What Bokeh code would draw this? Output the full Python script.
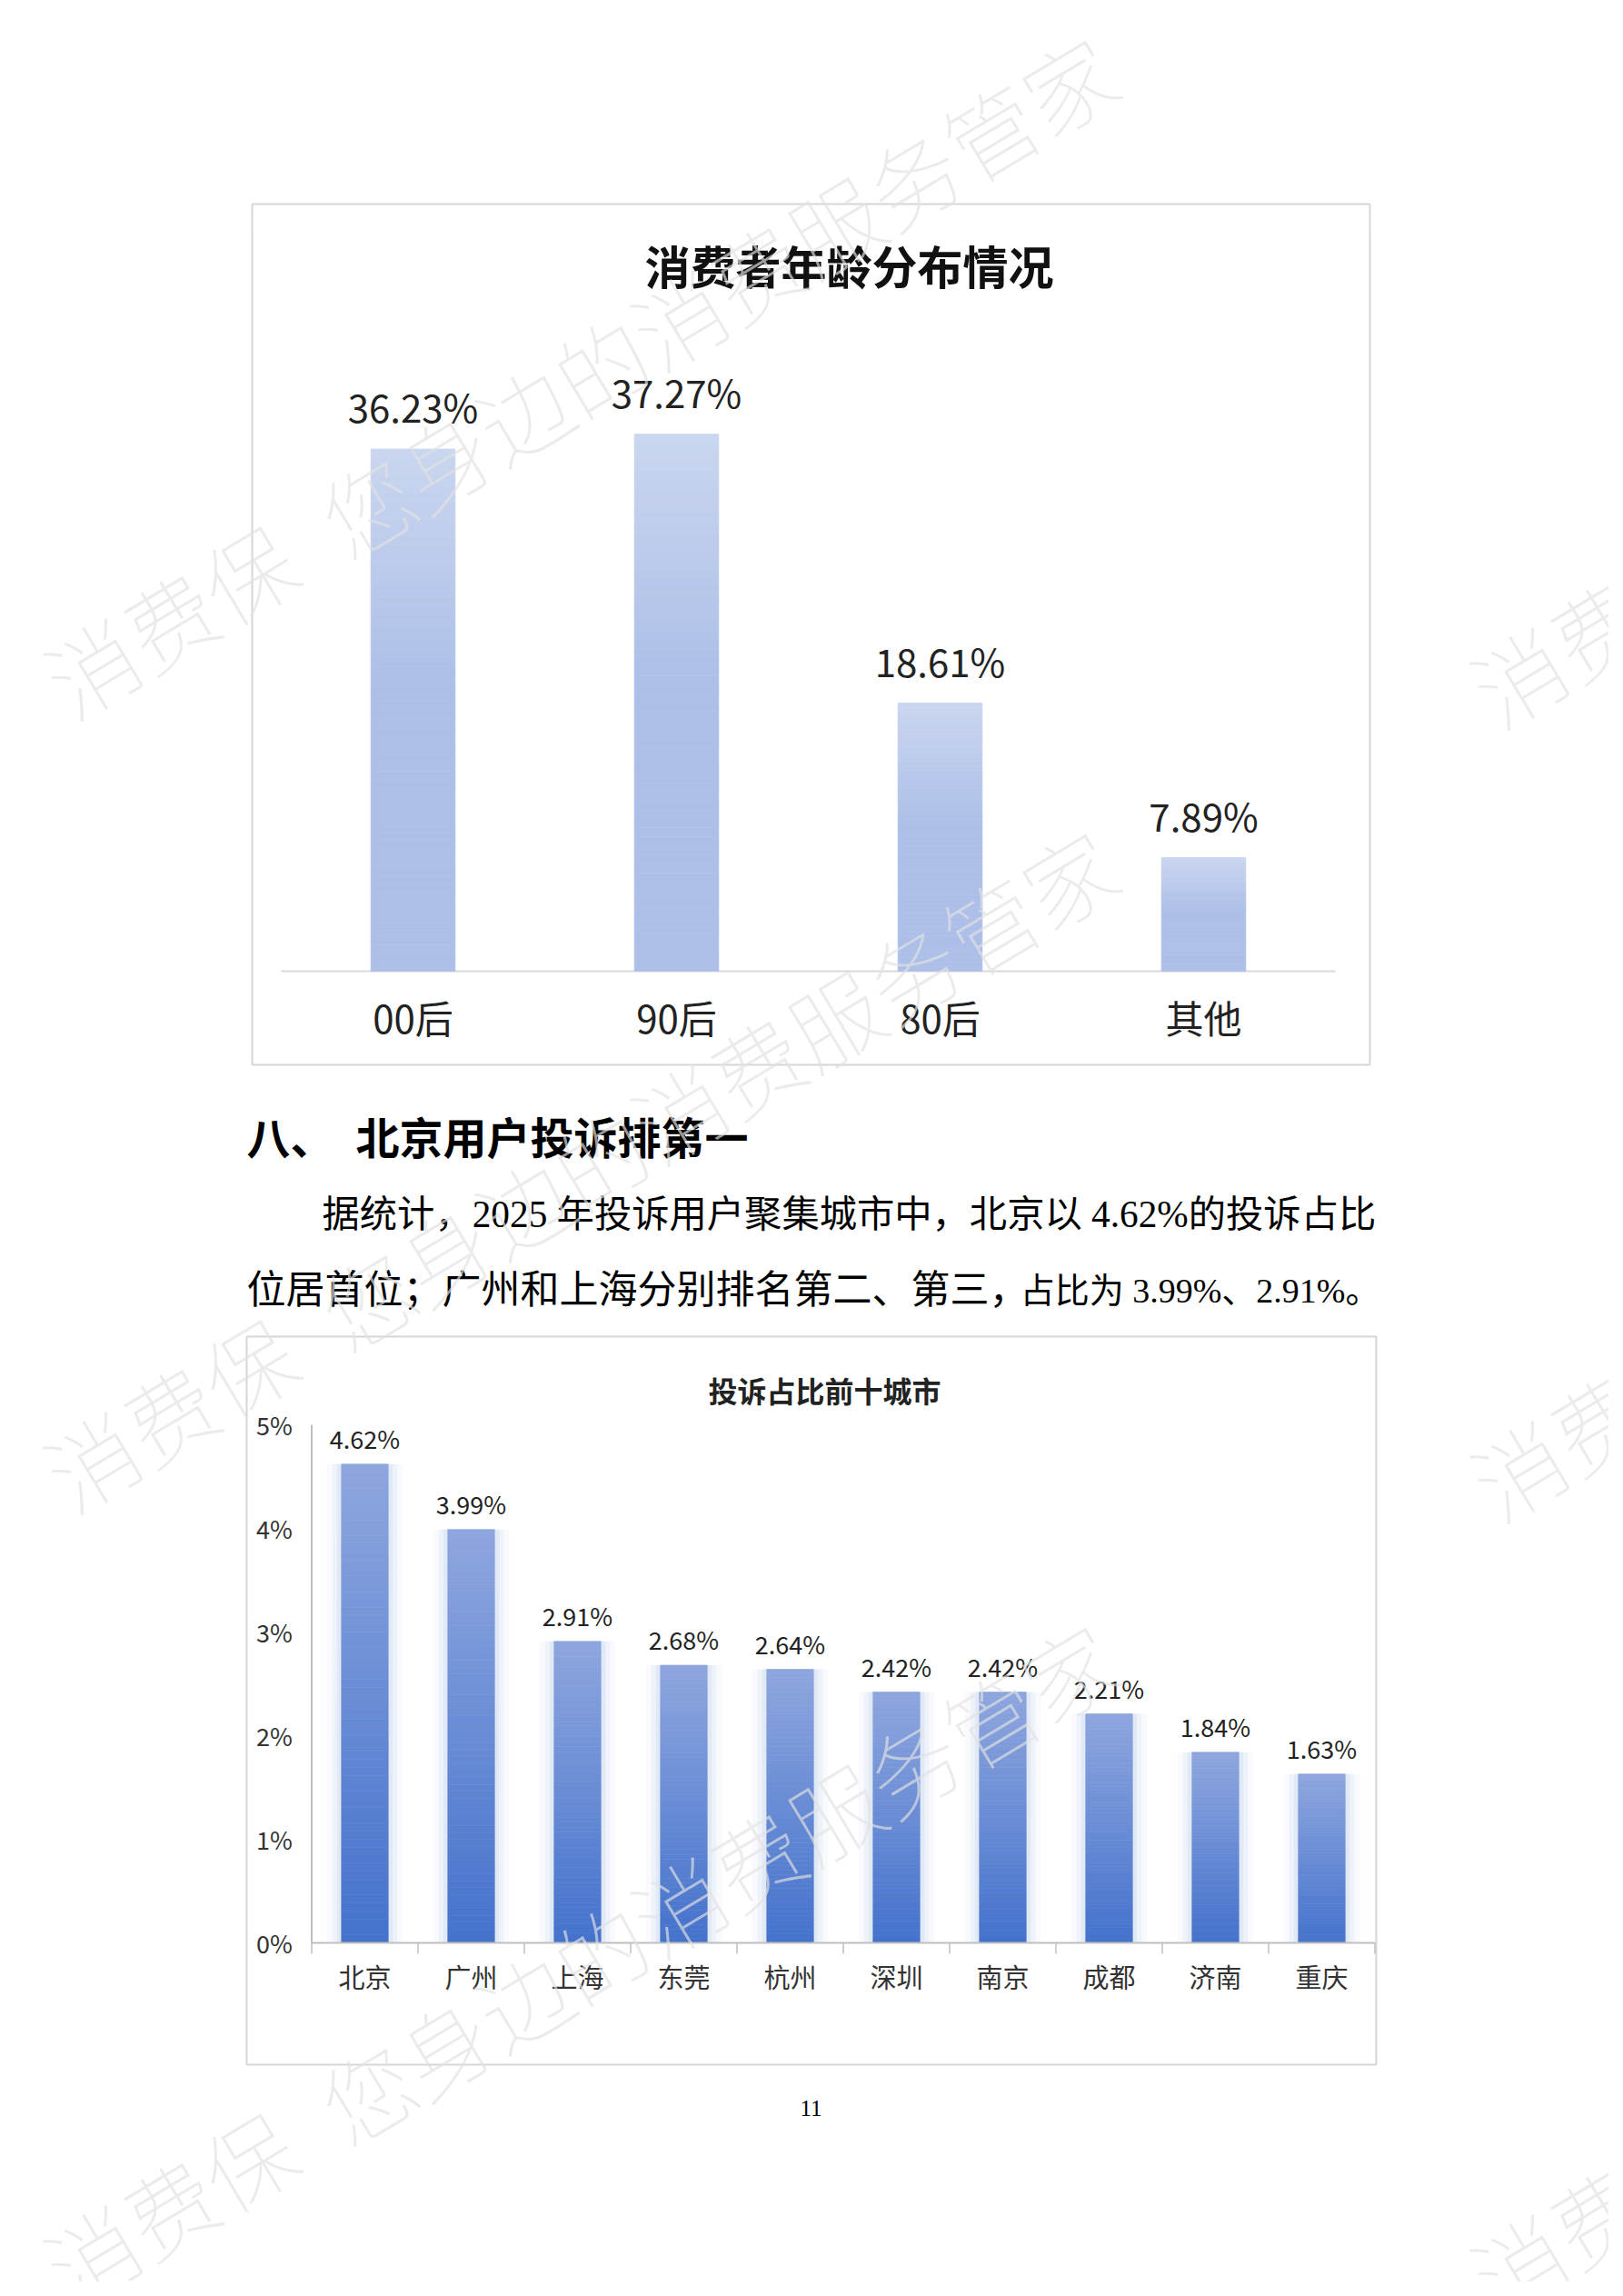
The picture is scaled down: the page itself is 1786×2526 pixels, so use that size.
import numpy as np
import pandas as pd
from bokeh.plotting import figure
from bokeh.models import Range1d, ColumnDataSource
from bokeh.core.properties import value
from bokeh.embed import file_html
from bokeh.resources import INLINE

# ---------------- data ----------------
age_categories = ["00后", "90后", "80后", "其他"]
age_shares = [36.23, 37.27, 18.61, 7.89]
age_labels = ["36.23%", "37.27%", "18.61%", "7.89%"]

cities = ["北京", "广州", "上海", "东莞", "杭州", "深圳", "南京", "成都", "济南", "重庆"]
city_shares = [4.62, 3.99, 2.91, 2.68, 2.64, 2.42, 2.42, 2.21, 1.84, 1.63]
city_labels = ["4.62%", "3.99%", "2.91%", "2.68%", "2.64%", "2.42%", "2.42%", "2.21%", "1.84%", "1.63%"]
city_ticks = [0, 1, 2, 3, 4, 5]
city_tick_labels = ["0%", "1%", "2%", "3%", "4%", "5%"]

chart1_title = "消费者年龄分布情况"
chart2_title = "投诉占比前十城市"
heading_num = "八、"
heading_text = "北京用户投诉排第一"
para_line1 = "据统计，2025 年投诉用户聚集城市中，北京以 4.62%的投诉占比"
para_line2a = "位居首位；广州和上海分别排名第二、第三，"
para_line2b = "占比为 3.99%、2.91%。"
page_number = "11"
watermark_a = "消费保"
watermark_b = "您身边的消费服务管家"

# ---------------- page geometry ----------------
W, H = 1770, 2510
PAGE_H = 2526
FONT = value("Noto Sans CJK SC")
BODY_FONT = value("Liberation Serif, Noto Sans CJK SC")
X_LO, X_HI = 0, W
Y_LO, Y_HI = PAGE_H - H, PAGE_H


def py(Y):
    return PAGE_H - Y


def lin_range(px0, ppu, lo, hi):
    return Range1d((lo - px0) / ppu, (hi - px0) / ppu)


p = figure(width=W, height=H, x_range=Range1d(X_LO, X_HI), y_range=Range1d(Y_LO, Y_HI),
           x_axis_type=None, y_axis_type=None, min_border=0,
           toolbar_location=None, output_backend="svg")
p.outline_line_color = None
p.background_fill_color = "white"
p.border_fill_color = "white"

# chart 1: category i centre at X=454+290*i, value 0 at Y=1068, 15.86 px per %
# chart 2: category i centre at X=401+117*i, value 0 at Y=2137, 114 px per %
C1_PPU = 15.86
C2_PPU = 114.0
p.extra_x_ranges = {
    "c1x": lin_range(454, 290, X_LO, X_HI),
    "c2x": lin_range(401, 117, X_LO, X_HI),
}
p.extra_y_ranges = {
    "c1y": lin_range(py(1068), C1_PPU, Y_LO, Y_HI),
    "c2y": lin_range(py(2137), C2_PPU, Y_LO, Y_HI),
}


def mix(a, b, t):
    return "#%02x%02x%02x" % tuple(int(round(a[j] + (b[j] - a[j]) * t)) for j in range(3))


def gradient_source(vals, top_col, bot_col, knee=1.0, n=60):
    rows = {"x": [], "b": [], "t": [], "c": []}
    for i, v in enumerate(vals):
        for k in range(n):
            mid = (k + 0.5) / n
            t = min((1 - mid) / knee, 1.0)
            rows["x"].append(i)
            rows["b"].append(v * k / n)
            rows["t"].append(v * (k + 1) / n)
            rows["c"].append(mix(top_col, bot_col, t))
    return ColumnDataSource(pd.DataFrame(rows))


# ---------------- chart 1 ----------------
p.quad(left=277, right=1507, top=py(224), bottom=py(1171), fill_color=None,
       line_color="#d6d6d6", line_width=2)
p.text(x=[934], y=[py(290)], text=[chart1_title], text_font=FONT, text_font_size="50px",
       text_font_style="bold", text_color="#111111", text_align="center", text_baseline="middle")

n1 = len(age_categories)
p.segment(x0=[-0.5], y0=[0], x1=[n1 - 0.5], y1=[0], line_color="#d9d9d9", line_width=2,
          x_range_name="c1x", y_range_name="c1y")
src1 = gradient_source(age_shares, (202, 214, 239), (173, 191, 232), knee=0.45)
p.vbar(x="x", bottom="b", top="t", width=0.32, fill_color="c", line_color="c", line_width=0.6,
       source=src1, x_range_name="c1x", y_range_name="c1y")
p.text(x=list(range(n1)), y=[v + 47 / C1_PPU for v in age_shares], text=age_labels,
       text_font=FONT, text_font_size="42px", text_color="#222222", text_align="center",
       text_baseline="middle", x_range_name="c1x", y_range_name="c1y")
p.text(x=list(range(n1)), y=[-50 / C1_PPU] * n1, text=age_categories,
       text_font=FONT, text_font_size="42px", text_color="#222222", text_align="center",
       text_baseline="middle", x_range_name="c1x", y_range_name="c1y")

# ---------------- heading & paragraph ----------------
p.text(x=[271], y=[py(1248)], text=[heading_num], text_font=FONT, text_font_size="48px",
       text_font_style="bold", text_color="#000000", text_align="left", text_baseline="middle")
p.text(x=[391], y=[py(1248)], text=[heading_text], text_font=FONT, text_font_size="48px",
       text_font_style="bold", text_color="#000000", text_align="left", text_baseline="middle")
p.text(x=[354], y=[py(1335)], text=[para_line1], text_font=BODY_FONT, text_font_size="41.3px",
       text_color="#000000", text_align="left", text_baseline="middle")
p.text(x=[271], y=[py(1419)], text=[para_line2a], text_font=BODY_FONT, text_font_size="43px",
       text_color="#000000", text_align="left", text_baseline="middle")
p.text(x=[1518], y=[py(1419)], text=[para_line2b], text_font=BODY_FONT, text_font_size="38px",
       text_color="#000000", text_align="right", text_baseline="middle")

# ---------------- chart 2 ----------------
p.quad(left=271, right=1514, top=py(1470), bottom=py(2271), fill_color=None,
       line_color="#d6d6d6", line_width=2)
p.text(x=[907], y=[py(1528)], text=[chart2_title], text_font=FONT, text_font_size="32px",
       text_font_style="bold", text_color="#222222", text_align="center", text_baseline="middle")

n2 = len(cities)
for extra, alpha in [(16, 0.035), (10, 0.05), (5, 0.07)]:
    p.vbar(x=list(range(n2)), top=city_shares, bottom=0, width=0.44 + 2 * extra / 117,
           fill_color="#4472c4", fill_alpha=alpha, line_color=None,
           x_range_name="c2x", y_range_name="c2y")
src2 = gradient_source(city_shares, (142, 166, 222), (68, 114, 204), knee=1.0)
p.vbar(x="x", bottom="b", top="t", width=0.44, fill_color="c", line_color="c", line_width=0.6,
       source=src2, x_range_name="c2x", y_range_name="c2y")

p.segment(x0=[-0.5], y0=[0], x1=[-0.5], y1=[city_ticks[-1]], line_color="#bfbfbf",
          line_width=2, x_range_name="c2x", y_range_name="c2y")
p.segment(x0=[-0.5], y0=[0], x1=[n2 - 0.5], y1=[0], line_color="#bfbfbf",
          line_width=2, x_range_name="c2x", y_range_name="c2y")
bounds = [k - 0.5 for k in range(n2 + 1)]
p.segment(x0=bounds, y0=[0] * len(bounds), x1=bounds, y1=[-12 / C2_PPU] * len(bounds),
          line_color="#bfbfbf", line_width=1.5, x_range_name="c2x", y_range_name="c2y")
p.text(x=[-0.5 - 41 / 117] * len(city_ticks), y=city_ticks, text=city_tick_labels,
       text_font=FONT, text_font_size="27px", text_color="#333333", text_align="center",
       text_baseline="middle", x_range_name="c2x", y_range_name="c2y")
p.text(x=list(range(n2)), y=[v + 28 / C2_PPU for v in city_shares], text=city_labels,
       text_font=FONT, text_font_size="27px", text_color="#222222", text_align="center",
       text_baseline="middle", x_range_name="c2x", y_range_name="c2y")
p.text(x=list(range(n2)), y=[-36 / C2_PPU] * n2, text=cities,
       text_font=FONT, text_font_size="29px", text_color="#333333", text_align="center",
       text_baseline="middle", x_range_name="c2x", y_range_name="c2y")

p.text(x=[892], y=[py(2319)], text=[page_number], text_font=value("Liberation Serif"),
       text_font_size="25px", text_color="#000000", text_align="center", text_baseline="middle")

# ---------------- watermark ----------------
ang = np.radians(31)
period = 873
wx, wy, wt = [], [], []
for k in range(3):
    wx += [57, 360, 57 + 1570]
    wy += [py(757 + period * k), py(580 + period * k), py(767 + period * k)]
    wt += [watermark_a, watermark_b, watermark_a]
p.text(x=wx, y=wy, text=wt, angle=ang, text_font=FONT, text_font_size="100px",
       text_color="#e1e1e1", text_alpha=0.67, text_align="left", text_baseline="middle")

open("out.html", "w").write(file_html(p, INLINE))
